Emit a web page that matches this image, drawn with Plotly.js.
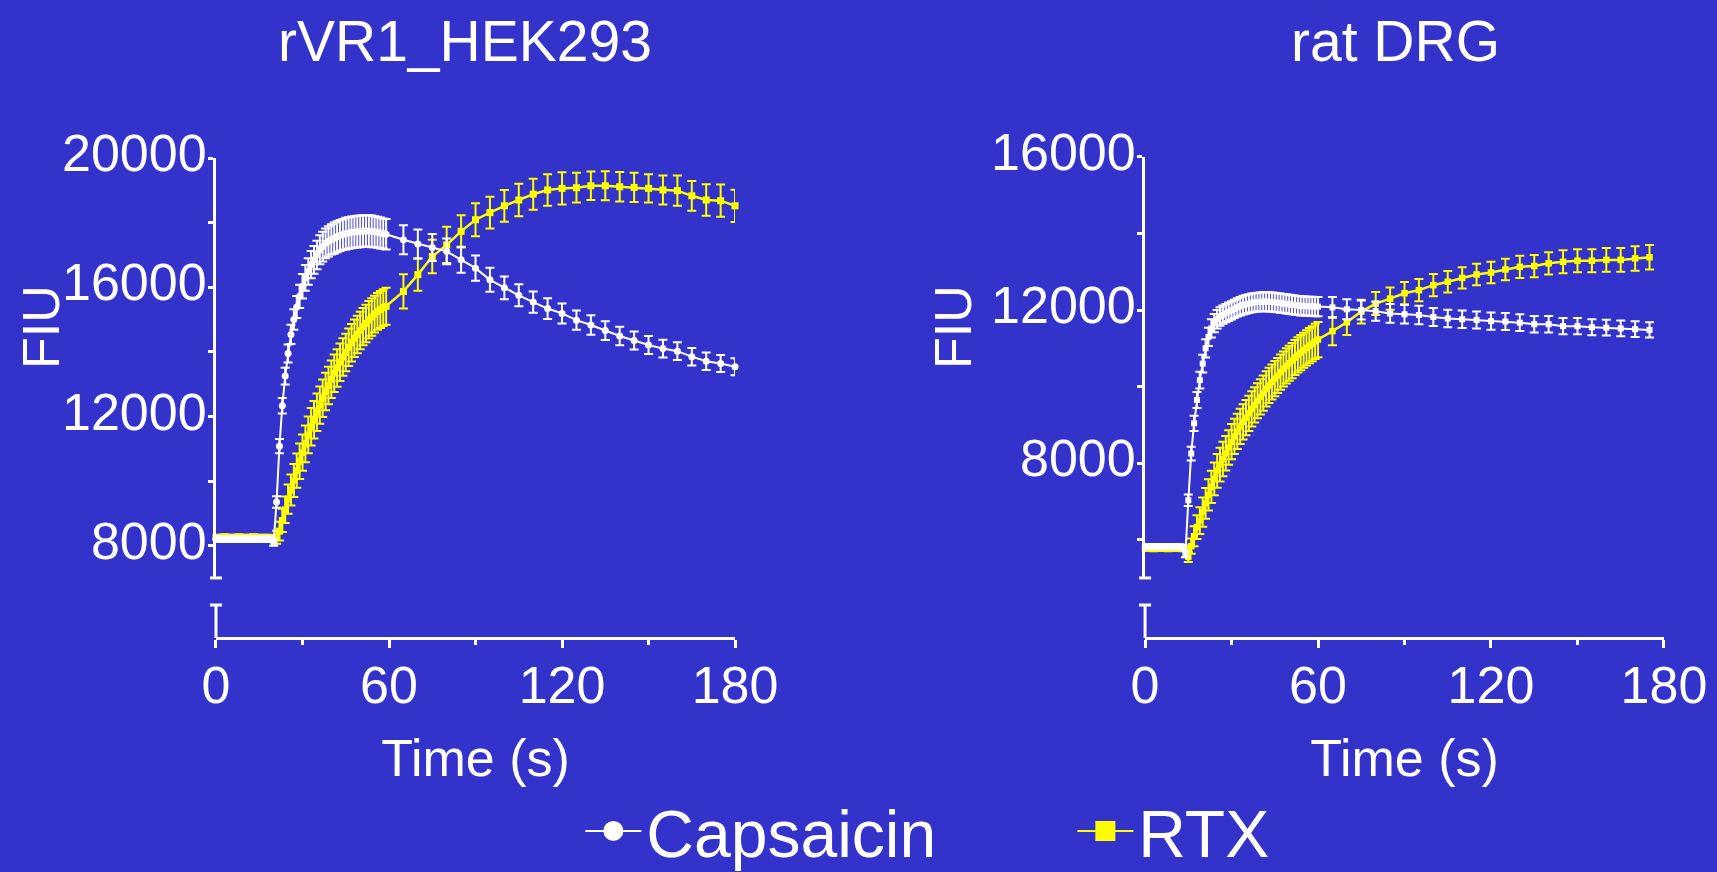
<!DOCTYPE html>
<html><head><meta charset="utf-8">
<script src="https://cdn.plot.ly/plotly-3.0.1.min.js"></script>
<style>html,body{margin:0;padding:0;background:#3333CC;} #chart{width:1717px;height:872px;}</style>
</head><body><div id="chart"></div>
<script>
// ---------- rVR1_HEK293 (left panel) ----------
const timeDenseL = [0,1,2,3,4,5,6,7,8,9,10,11,12,13,14,15,16,17,18,19,20,21,22,23,24,25,26,27,28,29,30,31,32,33,34,35,36,37,38,39,40,41,42,43,44,45,46,47,48,49,50,51,52,53,54,55,56,57,58,59];
const capsDenseL = [8210,8200,8200,8190,8200,8210,8200,8200,8190,8200,8210,8200,8200,8190,8200,8200,8210,8200,8190,8200,
  8100,9350,11080,12330,13250,13950,14540,15000,15390,15720,
  16030,16290,16490,16700,16850,17000,17160,17260,17360,17420,
  17480,17520,17560,17600,17630,17660,17680,17700,17710,17720,
  17730,17740,17740,17740,17730,17720,17700,17680,17660,17640];
const capsErrDenseL = [80,80,80,80,80,80,80,80,80,80,80,80,80,80,80,80,80,80,80,80,
  100,180,220,240,260,280,300,320,340,360,
  380,400,410,420,430,440,450,460,460,470,
  470,480,480,480,480,490,490,490,490,490,
  490,490,490,490,490,480,480,480,470,470];
const rtxDenseL = [8250,8240,8250,8260,8250,8240,8250,8250,8260,8250,8240,8250,8250,8260,8250,8240,8250,8250,8240,8250,
  8240,8260,8450,8780,9110,9440,9720,10020,10320,10610,
  10880,11150,11430,11680,11900,12130,12350,12560,12770,12960,
  13150,13340,13500,13680,13840,13980,14140,14280,14420,14540,
  14660,14780,14880,14990,15080,15170,15250,15310,15370,15410];
const rtxErrDenseL = [90,90,90,90,90,90,90,90,90,90,90,90,90,90,90,90,90,90,90,90,
  90,200,290,360,410,450,480,510,530,550,
  560,570,570,580,580,580,580,580,580,580,
  580,580,580,580,580,580,580,580,580,580,
  580,580,580,580,580,570,570,570,570,570];
const timeSparseL = [65,70,75,80,85,90,95,100,105,110,115,120,125,130,135,140,145,150,155,160,165,170,175,180];
const capsSparseL = [17470,17340,17230,17110,16850,16590,16230,15980,15750,15540,15340,15190,14980,14830,14660,14490,14350,14210,14100,14020,13850,13710,13640,13540];
const capsErrSparseL = [450,450,420,400,400,390,370,350,340,330,320,310,300,300,290,290,280,280,275,275,270,270,265,265];
const rtxSparseL = [15870,16390,16950,17310,17730,18090,18310,18520,18700,18880,19010,19060,19080,19140,19140,19110,19090,19060,19010,18990,18830,18700,18680,18520];
const rtxErrSparseL = [530,500,520,560,500,510,490,490,500,480,490,500,460,440,450,460,450,440,450,470,460,490,500,500];

// ---------- rat DRG (right panel) ----------
const timeDenseR = [0,1,2,3,4,5,6,7,8,9,10,11,12,13,14,15,16,17,18,19,20,21,22,23,24,25,26,27,28,29,30,31,32,33,34,35,36,37,38,39,40,41,42,43,44,45,46,47,48,49,50,51,52,53,54,55,56,57,58,59,60];
const capsDenseR = [5820,5810,5820,5830,5820,5810,5820,5820,5830,5820,5810,5820,5820,5810,
  5620,7030,8250,9040,9650,10170,10600,
  11000,11300,11520,11660,11760,11830,11880,11920,11955,11990,
  12030,12070,12100,12130,12150,12170,12190,12200,12210,12215,
  12220,12220,12215,12210,12200,12190,12180,12170,12160,12150,
  12140,12130,12120,12110,12110,12100,12100,12100,12090,12090];
const capsErrDenseR = [60,60,60,60,60,60,60,60,60,60,60,60,60,60,
  80,150,180,200,210,220,230,
  240,240,240,240,240,240,240,240,240,240,
  240,240,240,245,245,245,245,245,245,245,
  250,250,250,250,250,250,250,250,250,250,
  250,250,250,250,250,250,250,250,250,250];
const rtxDenseR = [5780,5790,5780,5770,5780,5790,5780,5780,5770,5780,5790,5780,5780,5770,5780,
  5550,5830,6090,6330,6500,6720,
  6950,7170,7380,7590,7800,7960,8110,8260,8410,8560,
  8700,8830,8960,9080,9190,9300,9420,9520,9630,9730,
  9830,9940,10030,10120,10210,10290,10380,10460,10540,10610,
  10680,10760,10830,10890,10950,11010,11070,11120,11180,11230];
const rtxErrDenseR = [70,70,70,70,70,70,70,70,70,70,70,70,70,70,70,
  130,200,260,310,350,380,
  400,410,420,430,440,440,450,450,450,460,
  460,460,460,460,460,460,460,460,460,460,
  460,460,460,460,460,460,460,460,460,460,
  460,460,460,460,460,460,460,460,460,460];
const timeSparseR = [65,70,75,80,85,90,95,100,105,110,115,120,125,130,135,140,145,150,155,160,165,170,175];
const capsSparseR = [12070,12020,12000,11970,11910,11890,11870,11820,11780,11760,11740,11710,11700,11670,11630,11630,11580,11580,11550,11540,11520,11500,11480];
const capsErrSparseR = [270,260,250,250,245,240,240,235,230,230,225,225,220,220,215,215,210,210,210,205,205,205,200];
const rtxSparseR = [11450,11680,11960,12170,12300,12440,12520,12650,12740,12840,12930,12980,13060,13130,13150,13220,13260,13290,13290,13310,13310,13350,13380];
const rtxErrSparseR = [370,330,310,300,290,290,290,290,280,280,280,280,280,290,290,290,300,300,300,310,310,320,320];

// ---------- ticks / labels ----------
const xTickVals = [0,60,120,180];
const xTickText = ['0','60','120','180'];
const xMinorVals = [30,90,150];
const yTickValsL = [8000,12000,16000,20000];
const yTickTextL = ['8000','12000','16000','20000'];
const yMinorValsL = [10000,14000,18000];
const yTickValsR = [8000,12000,16000];
const yTickTextR = ['8000','12000','16000'];
const yMinorValsR = [6000,10000,14000];
const seriesNames = ['Capsaicin','RTX'];
const panelTitles = ['rVR1_HEK293','rat DRG'];
const yTitle = 'FIU';
const xTitle = 'Time (s)';

const WHITE = '#FFFFFF', YELLOW = '#FFFF00', BG = '#3333CC';
const XDOM_L = [0.1258, 0.4281], XDOM_R = [0.6669, 0.9691];
const YDOM_L = [0.3372, 0.8188], YDOM_R = [0.3372, 0.8200];
const STUB = [0.2683, 0.3062];   // paper span of the short lower segment of the broken y axis

function series(x, y, err, color, symbol, size, lw, xa, ya) {
  return {
    type: 'scatter', mode: 'lines+markers', x: x, y: y, xaxis: xa, yaxis: ya,
    showlegend: false, cliponaxis: false, hoverinfo: 'skip',
    line: {color: color, width: lw},
    marker: {color: color, symbol: symbol, size: size},
    error_y: {type: 'data', array: err, visible: true, color: color, thickness: 2, width: 4.5}
  };
}

const traces = [
  series(timeDenseL.concat(timeSparseL), rtxDenseL.concat(rtxSparseL), rtxErrDenseL.concat(rtxErrSparseL), YELLOW, 'square', 7, 2.5, 'x', 'y'),
  series(timeDenseL.concat(timeSparseL), capsDenseL.concat(capsSparseL), capsErrDenseL.concat(capsErrSparseL), WHITE, 'circle', 7, 2, 'x', 'y'),
  series(timeDenseR.concat(timeSparseR), rtxDenseR.concat(rtxSparseR), rtxErrDenseR.concat(rtxErrSparseR), YELLOW, 'square', 6.5, 2.5, 'x2', 'y2'),
  series(timeDenseR.concat(timeSparseR), capsDenseR.concat(capsSparseR), capsErrDenseR.concat(capsErrSparseR), WHITE, 'square', 6, 2, 'x2', 'y2'),
  // legend entries
  {type:'scatter', mode:'lines+markers', x:[null], y:[null], xaxis:'x', yaxis:'y', name: seriesNames[0], showlegend:true,
   line:{color:WHITE, width:2}, marker:{color:WHITE, symbol:'circle', size:16, line:{color:WHITE, width:4}}},
  {type:'scatter', mode:'lines+markers', x:[null], y:[null], xaxis:'x', yaxis:'y', name: seriesNames[1], showlegend:true,
   line:{color:YELLOW, width:2}, marker:{color:YELLOW, symbol:'square', size:16, line:{color:YELLOW, width:4}}}
];

function xAxis(domain) {
  return {
    domain: domain, range: [0,180], anchor: 'free', position: STUB[0],
    showline: true, linecolor: WHITE, linewidth: 3,
    ticks: 'outside', ticklen: 8, tickwidth: 3, tickcolor: WHITE,
    tickmode: 'array', tickvals: xTickVals, ticktext: xTickText,
    minor: {tickmode: 'array', tickvals: xMinorVals, ticks: 'outside', ticklen: 5, tickwidth: 3, tickcolor: WHITE, showgrid: false},
    showgrid: false, zeroline: false, ticklabelstandoff: -7, automargin: false,
    tickfont: {size: 52, color: WHITE},
    title: {text: xTitle, font: {size: 52, color: WHITE}, standoff: 26}
  };
}
function yAxis(domain, range, anchor, vals, text, minorVals) {
  return {
    domain: domain, range: range, anchor: anchor,
    showline: true, linecolor: WHITE, linewidth: 3,
    ticks: 'outside', ticklen: 5, tickwidth: 3, tickcolor: WHITE,
    tickmode: 'array', tickvals: vals, ticktext: text,
    minor: {tickmode: 'array', tickvals: minorVals, ticks: 'outside', ticklen: 5, tickwidth: 3, tickcolor: WHITE, showgrid: false},
    showgrid: false, zeroline: false, ticklabelstandoff: -9, ticklabelshift: -5, automargin: false,
    tickfont: {size: 52, color: WHITE}
  };
}
// decorations of the broken y axis (paper coordinates of the axis line)
function cap(xp, yp) {
  return {type:'line', xref:'paper', yref:'paper', xsizemode:'pixel', xanchor: xp, x0:-6, x1:6, y0: yp, y1: yp,
    line:{color: WHITE, width: 3}};
}
function stub(xp) {
  return {type:'line', xref:'paper', yref:'paper', x0: xp, x1: xp, y0: STUB[0], y1: STUB[1], line:{color: WHITE, width: 3}};
}

const layout = {
  width: 1717, height: 872,
  paper_bgcolor: BG, plot_bgcolor: BG,
  margin: {l:0, r:0, t:0, b:0, pad: 0, autoexpand: false},
  font: {family: 'Liberation Sans, Arial, sans-serif', color: WHITE, size: 52},
  showlegend: true,
  legend: {orientation: 'h', x: 0.338, xanchor: 'left', y: 0.047, yanchor: 'middle',
    font: {size: 66, color: WHITE}, itemwidth: 56, entrywidth: 421, entrywidthmode: 'pixels',
    bgcolor: 'rgba(0,0,0,0)', traceorder: 'normal'},
  xaxis: xAxis(XDOM_L),
  yaxis: yAxis(YDOM_L, [7000, 20000], 'x', yTickValsL, yTickTextL, yMinorValsL),
  xaxis2: xAxis(XDOM_R),
  yaxis2: yAxis(YDOM_R, [5000, 16000], 'x2', yTickValsR, yTickTextR, yMinorValsR),
  shapes: [stub(XDOM_L[0]), stub(XDOM_R[0]),
    cap(XDOM_L[0], YDOM_L[0]), cap(XDOM_L[0], STUB[1]), cap(XDOM_R[0], YDOM_R[0]), cap(XDOM_R[0], STUB[1])],
  annotations: [
    {text: panelTitles[0], x: 0.2708, y: 0.953, xref:'paper', yref:'paper', showarrow:false, xanchor:'center', yanchor:'middle', font:{size:57, color:WHITE}},
    {text: panelTitles[1], x: 0.8125, y: 0.953, xref:'paper', yref:'paper', showarrow:false, xanchor:'center', yanchor:'middle', font:{size:57, color:WHITE}},
    {text: yTitle, x: 0.0239, y: 0.625, xref:'paper', yref:'paper', showarrow:false, textangle:-90, xanchor:'center', yanchor:'middle', font:{size:52, color:WHITE}},
    {text: yTitle, x: 0.555, y: 0.625, xref:'paper', yref:'paper', showarrow:false, textangle:-90, xanchor:'center', yanchor:'middle', font:{size:52, color:WHITE}}
  ]
};

Plotly.newPlot('chart', traces, layout, {displayModeBar: false, staticPlot: true});
</script></body></html>
